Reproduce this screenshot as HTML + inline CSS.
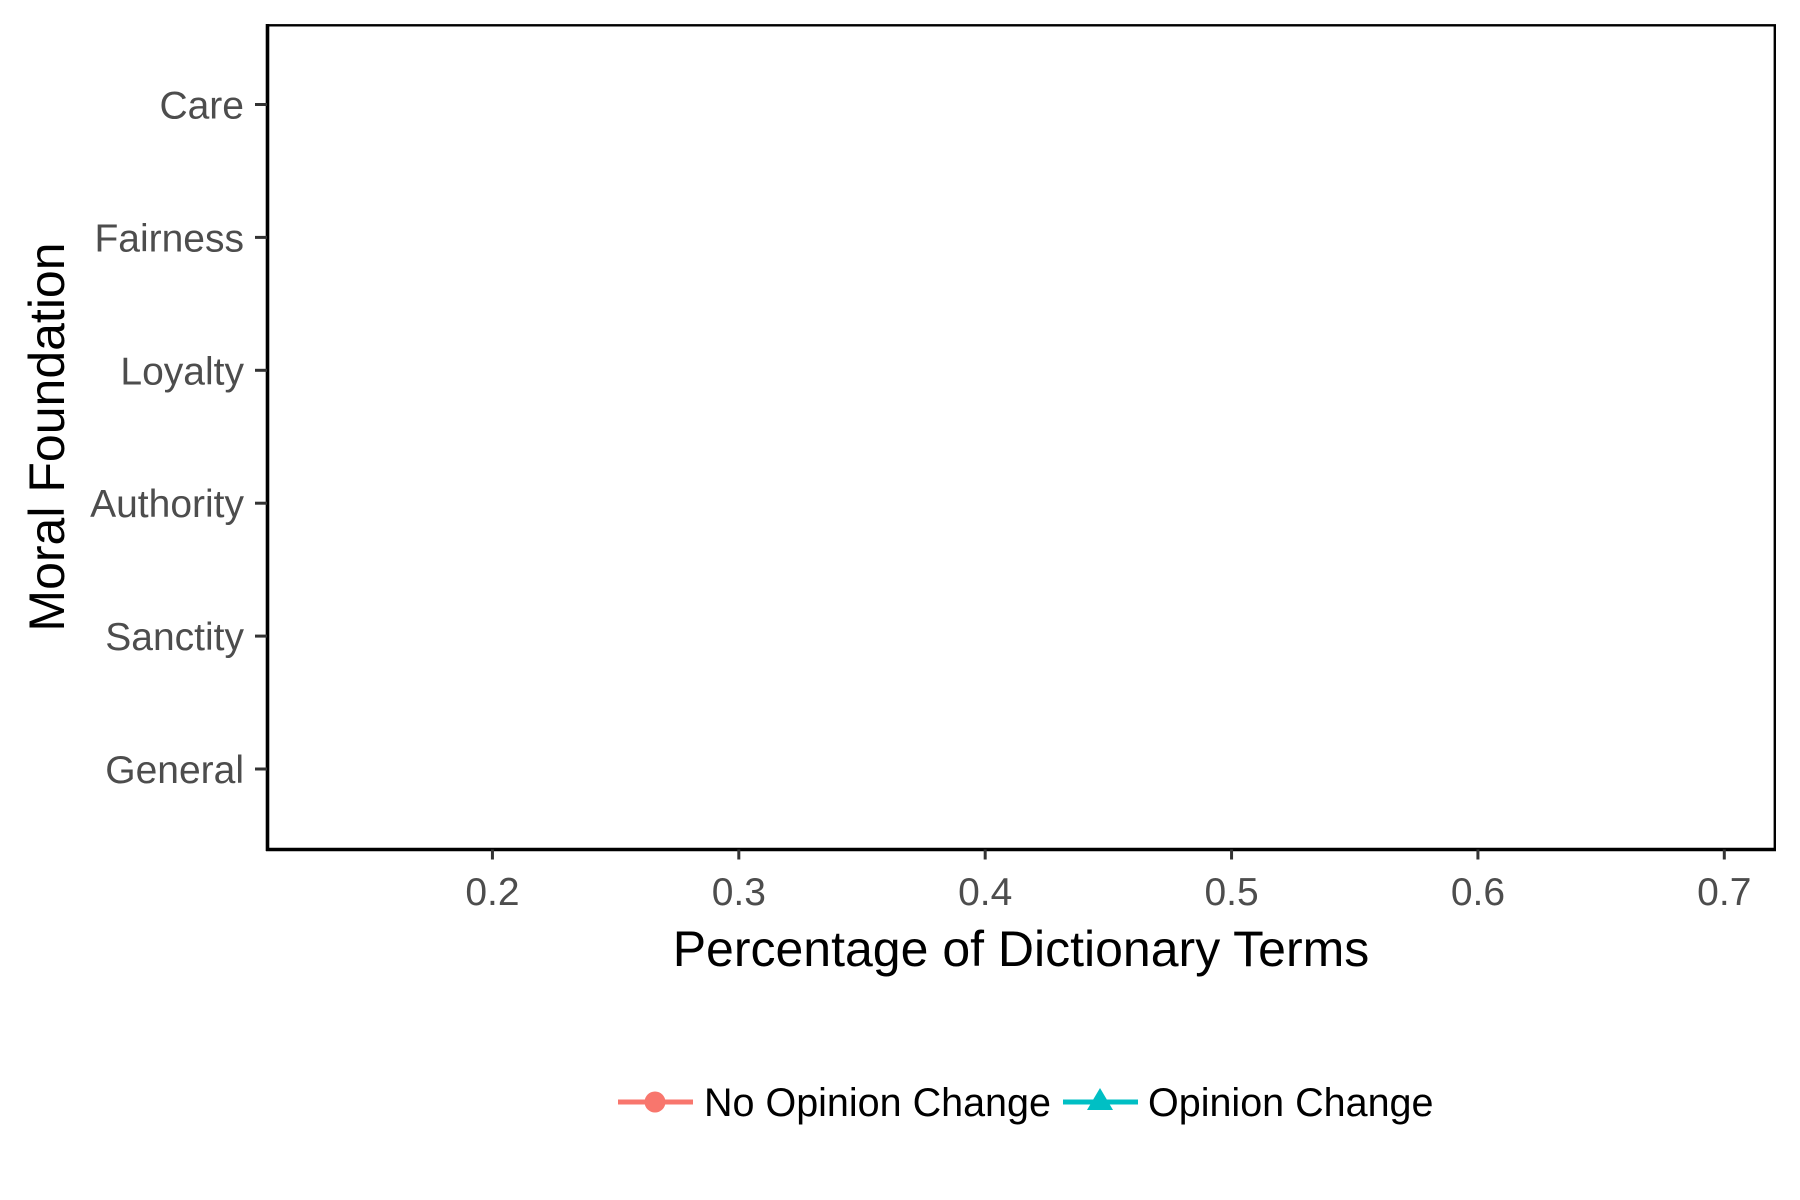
<!DOCTYPE html>
<html><head><meta charset="utf-8"><style>
html,body{margin:0;padding:0;background:#fff;}
svg{display:block;font-family:"Liberation Sans",Arial,sans-serif;}
</style></head><body>
<svg id="chart" width="1800" height="1200" viewBox="0 0 1800 1200">
<rect x="267.5" y="25.3" width="1507.3" height="824.2" fill="#fff" stroke="#000" stroke-width="2.4"/>
<line x1="267.5" y1="24" x2="267.5" y2="851" stroke="#000" stroke-width="3.6"/>
<line x1="266" y1="849.5" x2="1776" y2="849.5" stroke="#000" stroke-width="3.6"/>
<g id="yaxis"></g>
<g id="xaxis"></g>
<g id="marks"></g>
<text x="1021" y="966" text-anchor="middle" font-size="50" fill="#000">Percentage of Dictionary Terms</text>
<text transform="translate(64,437) rotate(-90)" text-anchor="middle" font-size="50" fill="#000">Moral Foundation</text>
<g>
<g>
<line x1="618" y1="1102" x2="693" y2="1102" stroke="#F8766D" stroke-width="5"/>
<circle cx="655" cy="1102" r="10.5" fill="#F8766D"/>
<text x="704" y="1116" font-size="39.5" fill="#000">No Opinion Change</text>
</g>
<g>
<line x1="1063" y1="1102" x2="1138" y2="1102" stroke="#00BFC4" stroke-width="5"/>
<polygon points="1100,1088 1113,1110 1087,1110" fill="#00BFC4"/>
<text x="1148" y="1116" font-size="39.5" fill="#000">Opinion Change</text>
</g>
</g>
</svg>
<script>
const categories = ["Care","Fairness","Loyalty","Authority","Sanctity","General"];
const xTicks = [0.2,0.3,0.4,0.5,0.6,0.7];
const noChangeValues = [];
const changeValues = [];
const NS="http://www.w3.org/2000/svg";
const L=267.5,R=1774.8,T=25.3,B=849.5;
const xMin=0.1087,xMax=0.7205;
function xs(v){return L+(v-xMin)/(xMax-xMin)*(R-L);}
const y0=104.5,yStep=132.9;
function ys(i){return y0+i*yStep;}
function mk(tag,attrs,parent){const e=document.createElementNS(NS,tag);for(const k in attrs)e.setAttribute(k,attrs[k]);parent.appendChild(e);return e;}
const ya=document.getElementById('yaxis'),xa=document.getElementById('xaxis'),mg=document.getElementById('marks');
categories.forEach((c,i)=>{
  const t=mk('line',{x1:255,x2:267,y1:ys(i),y2:ys(i),stroke:'#333','stroke-width':3},ya);
  
  
  const l=mk('text',{x:244,y:ys(i)+14,'text-anchor':'end','font-size':39,fill:'#4d4d4d'},ya);
  l.textContent=c;
  
  
});
xTicks.forEach(v=>{
  const t=mk('line',{x1:xs(v),x2:xs(v),y1:B,y2:B+10,stroke:'#333','stroke-width':3},xa);
  
  
  const l=mk('text',{x:xs(v),y:905,'text-anchor':'middle','font-size':39,fill:'#4d4d4d'},xa);
  l.textContent=v.toFixed(1);
  
  
});
noChangeValues.forEach((v,i)=>{
  const p=mk('circle',{cx:xs(v),cy:ys(i),r:9,fill:'#F8766D'},mg);
  
  
});
changeValues.forEach((v,i)=>{
  const x=xs(v),y=ys(i);
  const p=mk('polygon',{points:`${x},${y-11} ${x+11},${y+7} ${x-11},${y+7}`,fill:'#00BFC4'},mg);
  
  
});
</script>
</body></html>
